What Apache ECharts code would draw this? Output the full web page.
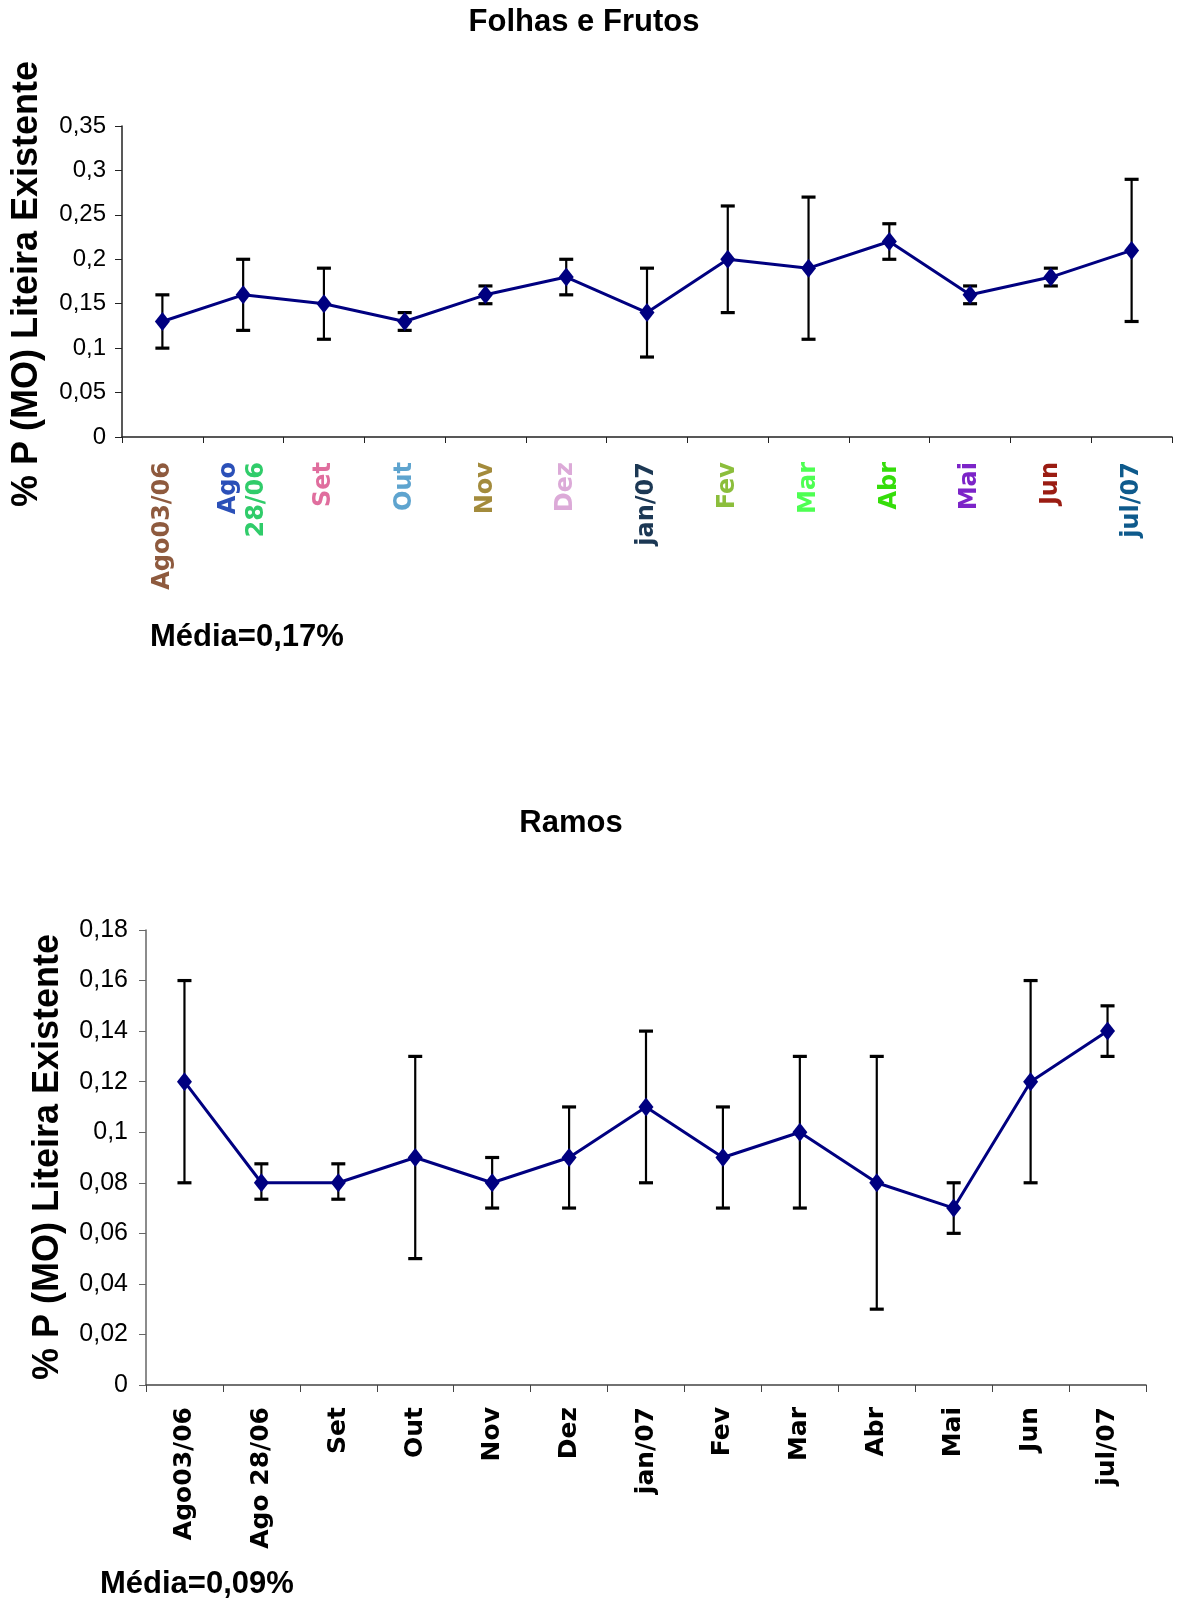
<!DOCTYPE html>
<html>
<head>
<meta charset="utf-8">
<script src="https://cdn.jsdelivr.net/npm/echarts@6/dist/echarts.min.js"></script>
<style>
html,body{margin:0;padding:0;background:#fff;}
#chart{width:1181px;height:1602px;}
</style>
</head>
<body>
<div id="chart"></div>
<script>
// ---- data ----
const categories = ['Ago03/06','Ago 28/06','Set','Out','Nov','Dez','jan/07','Fev','Mar','Abr','Mai','Jun','jul/07'];

const folhasMean = [0.13,0.16,0.15,0.13,0.16,0.18,0.14,0.20,0.19,0.22,0.16,0.18,0.21];
const folhasLow  = [0.10,0.12,0.11,0.12,0.15,0.16,0.09,0.14,0.11,0.20,0.15,0.17,0.13];
const folhasHigh = [0.16,0.20,0.19,0.14,0.17,0.20,0.19,0.26,0.27,0.24,0.17,0.19,0.29];

const ramosMean = [0.12,0.08,0.08,0.09,0.08,0.09,0.11,0.09,0.10,0.08,0.07,0.12,0.14];
const ramosLow  = [0.08,0.0735,0.0735,0.05,0.07,0.07,0.08,0.07,0.07,0.03,0.06,0.08,0.13];
const ramosHigh = [0.16,0.0875,0.0875,0.13,0.09,0.11,0.14,0.11,0.13,0.13,0.08,0.16,0.15];

const titleTop = 'Folhas e Frutos';
const titleBottom = 'Ramos';
const yAxisTitle = '% P (MO) Liteira Existente';
const mediaTop = 'Média=0,17%';
const mediaBottom = 'Média=0,09%';

// label colours for top chart categories (style, separate from data)
const topLabelColors = ['#8E5A3E',null,'#E06E9E','#5EA4CF','#A38B3C','#DCAAD8','#1C3854','#8CBE3C','#4EFF52','#35DD0A','#7C24C8','#9A1C12','#0E5A8C'];
const ago28Colors = ['#2B50B8','#30CC6A'];

// ---- build ----
const labelFont = '"DejaVu Sans", sans-serif';
const rich = {};
topLabelColors.forEach((c, i) => {
  if (c) rich['c' + i] = {color: c, fontFamily: labelFont, fontWeight: 'bold', fontSize: 24};
});
rich.a1 = {color: ago28Colors[0], fontFamily: labelFont, fontWeight: 'bold', fontSize: 24, lineHeight: 28};
rich.b1 = {color: ago28Colors[1], fontFamily: labelFont, fontWeight: 'bold', fontSize: 24, lineHeight: 28};

function fmtComma(v) {
  if (v === 0) return '0';
  return String(+v.toFixed(2)).replace('.', ',');
}

function errorBarRender(params, api) {
  const x = api.value(0), lo = api.value(1), hi = api.value(2);
  const pLo = api.coord([x, lo]);
  const pHi = api.coord([x, hi]);
  const half = 7;
  const st = {stroke: '#000', lineWidth: 2.2};
  const cap = {stroke: '#000', lineWidth: 3.2};
  return {
    type: 'group',
    children: [
      {type: 'line', shape: {x1: pHi[0], y1: pHi[1], x2: pLo[0], y2: pLo[1]}, style: st},
      {type: 'line', shape: {x1: pHi[0] - half, y1: pHi[1], x2: pHi[0] + half, y2: pHi[1]}, style: cap},
      {type: 'line', shape: {x1: pLo[0] - half, y1: pLo[1], x2: pLo[0] + half, y2: pLo[1]}, style: cap}
    ]
  };
}

const chart = echarts.init(document.getElementById('chart'), null, {renderer: 'canvas'});

const option = {
  backgroundColor: '#fff',
  animation: false,
  grid: [
    {left: 122, top: 126, width: 1050, height: 311, containLabel: false},
    {left: 146, top: 930, width: 1000, height: 455, containLabel: false}
  ],
  xAxis: [
    {
      gridIndex: 0, type: 'category', data: categories, boundaryGap: true,
      axisLine: {lineStyle: {color: '#222', width: 1.5}},
      axisTick: {show: true, length: 6, lineStyle: {color: '#222'}},
      axisLabel: {
        rotate: 90, margin: 25, interval: 0,
        formatter: function (value, idx) {
          if (idx === 1) return '{a1|Ago}\n{b1|28/06}';
          return '{c' + idx + '|' + value + '}';
        },
        rich: rich
      }
    },
    {
      gridIndex: 1, type: 'category', data: categories, boundaryGap: true,
      axisLine: {lineStyle: {color: '#444', width: 1.5}},
      axisTick: {show: true, length: 7, lineStyle: {color: '#444'}},
      axisLabel: {
        rotate: 90, margin: 22, interval: 0,
        color: '#000', fontFamily: labelFont, fontWeight: 'bold', fontSize: 25
      }
    }
  ],
  yAxis: [
    {
      gridIndex: 0, type: 'value', min: 0, max: 0.35, interval: 0.05,
      axisLine: {show: true, lineStyle: {color: '#222', width: 1.5}},
      axisTick: {show: true, length: 7, lineStyle: {color: '#222'}},
      splitLine: {show: false},
      axisLabel: {formatter: fmtComma, color: '#000', fontSize: 24, fontFamily: '"Liberation Sans", Arial, sans-serif', margin: 16}
    },
    {
      gridIndex: 1, type: 'value', min: 0, max: 0.18, interval: 0.02,
      axisLine: {show: true, lineStyle: {color: '#666', width: 1.5}},
      axisTick: {show: true, length: 7, lineStyle: {color: '#666'}},
      splitLine: {show: false},
      axisLabel: {formatter: fmtComma, color: '#000', fontSize: 25, fontFamily: '"Liberation Sans", Arial, sans-serif', margin: 18}
    }
  ],
  series: [
    {
      type: 'custom', xAxisIndex: 0, yAxisIndex: 0, z: 1,
      renderItem: errorBarRender,
      data: categories.map((c, i) => [i, folhasLow[i], folhasHigh[i]])
    },
    {
      type: 'line', xAxisIndex: 0, yAxisIndex: 0, z: 3,
      data: folhasMean,
      symbol: 'diamond', symbolSize: [15, 19],
      lineStyle: {color: '#000080', width: 3},
      itemStyle: {color: '#000080'}
    },
    {
      type: 'custom', xAxisIndex: 1, yAxisIndex: 1, z: 1,
      renderItem: errorBarRender,
      data: categories.map((c, i) => [i, ramosLow[i], ramosHigh[i]])
    },
    {
      type: 'line', xAxisIndex: 1, yAxisIndex: 1, z: 3,
      data: ramosMean,
      symbol: 'diamond', symbolSize: [15, 19],
      lineStyle: {color: '#000080', width: 3},
      itemStyle: {color: '#000080'}
    }
  ],
  graphic: [
    {type: 'text', x: 584, y: 22, style: {text: titleTop, font: 'bold 31px "Liberation Sans", Arial, sans-serif', fill: '#000', align: 'center', verticalAlign: 'middle'}},
    {type: 'text', x: 571, y: 823, style: {text: titleBottom, font: 'bold 31px "Liberation Sans", Arial, sans-serif', fill: '#000', align: 'center', verticalAlign: 'middle'}},
    {type: 'text', x: 27, y: 284, rotation: Math.PI / 2, style: {text: yAxisTitle, font: 'bold 36px "Liberation Sans", Arial, sans-serif', fill: '#000', align: 'center', verticalAlign: 'middle'}},
    {type: 'text', x: 48, y: 1157, rotation: Math.PI / 2, style: {text: yAxisTitle, font: 'bold 36px "Liberation Sans", Arial, sans-serif', fill: '#000', align: 'center', verticalAlign: 'middle'}},
    {type: 'text', x: 150, y: 637, style: {text: mediaTop, font: 'bold 31px "Liberation Sans", Arial, sans-serif', fill: '#000', align: 'left', verticalAlign: 'middle'}},
    {type: 'text', x: 100, y: 1584, style: {text: mediaBottom, font: 'bold 31px "Liberation Sans", Arial, sans-serif', fill: '#000', align: 'left', verticalAlign: 'middle'}}
  ]
};

chart.setOption(option);
</script>
</body>
</html>
